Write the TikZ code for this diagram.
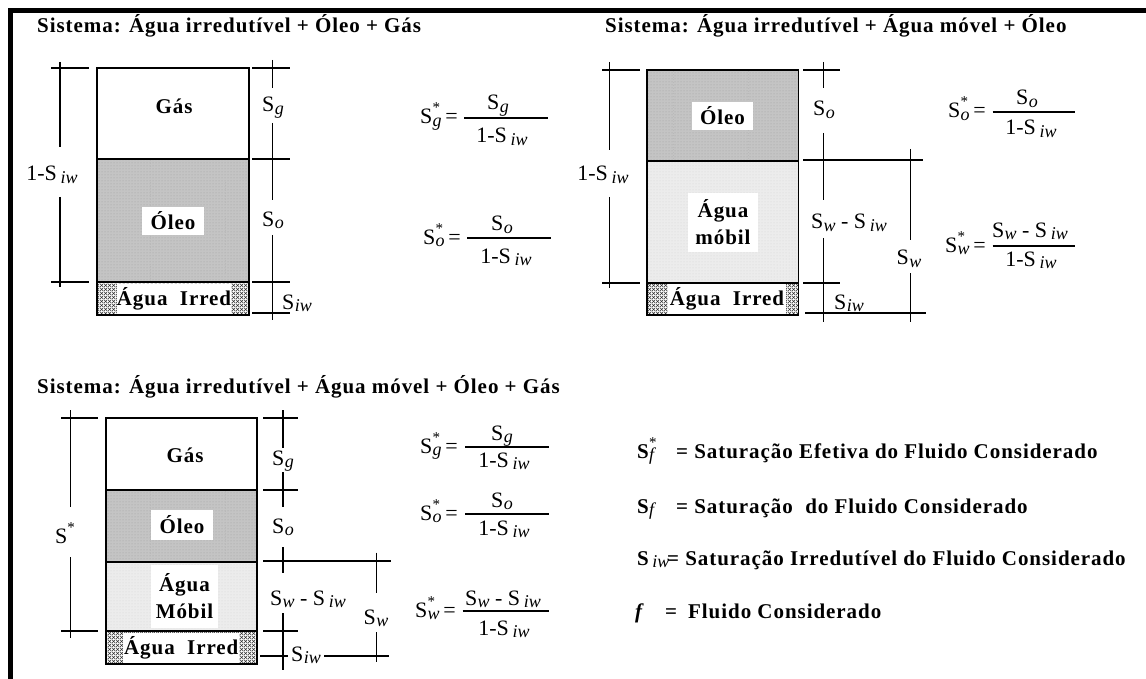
\documentclass[tikz,border=0pt]{standalone}
\usepackage{fontspec}
\setmainfont{Liberation Serif}
\newfontfamily\bfam{Liberation Serif}[LetterSpace=4.5]
\usetikzlibrary{patterns}
\definecolor{oleo}{RGB}{196,196,196}
\definecolor{oleodot}{RGB}{160,160,160}
\definecolor{agua}{RGB}{236,236,236}
\definecolor{aguadot}{RGB}{212,212,212}
\pgfdeclarepatternformonly{xhatch}{\pgfpointorigin}{\pgfpoint{4pt}{4pt}}{\pgfpoint{4pt}{4pt}}{%
  \pgfsetlinewidth{0.7pt}%
  \pgfpathmoveto{\pgfpoint{-0.1pt}{-0.1pt}}\pgfpathlineto{\pgfpoint{4.1pt}{4.1pt}}%
  \pgfpathmoveto{\pgfpoint{-0.1pt}{4.1pt}}\pgfpathlineto{\pgfpoint{4.1pt}{-0.1pt}}%
  \pgfusepath{stroke}}
\newcommand\lblf{\bfam\bfseries\fontsize{21}{27}\selectfont}
\newcommand\symf{\fontsize{22}{24}\selectfont}
\newcommand\subf{\normalfont\fontsize{18}{18}\selectfont\itshape}
\newcommand\supf{\normalfont\fontsize{15}{15}\selectfont}
\newcommand\Sx[1]{S\kern0.3pt\raisebox{-0.13em}{\subf #1}}
\newcommand\Sxs[1]{S\,\raisebox{-0.13em}{\subf #1}}
\newcommand\Sst[1]{S\kern0.3pt\rlap{\raisebox{0.5em}{\supf *}}\raisebox{-0.13em}{\subf #1}}
\tikzset{
  boxln/.style={line width=1.8pt},
  dimln/.style={line width=1.1pt},
  ttl/.style={font=\lblf, anchor=base west, inner sep=0pt},
  lbl/.style={font=\lblf, inner sep=0pt, align=center},
  wlbl/.style={lbl, fill=white},
  sym/.style={font=\symf, inner sep=0pt, anchor=base},
  lhs/.style={font=\symf, inner sep=0pt, anchor=base east},
  oleocell/.style={fill=oleo, postaction={pattern=dots, pattern color=oleodot}},
  aguacell/.style={fill=agua, postaction={pattern=dots, pattern color=aguadot}},
  irrcell/.style={fill=white, postaction={pattern=xhatch, pattern color=black!80}},
  ghost/.style={gray!55, dotted, line width=0.8pt},
  leg/.style={font=\lblf, inner sep=0pt, anchor=base west},
}
\begin{document}
\begin{tikzpicture}[x=1pt,y=-1pt]
\useasboundingbox (0,0) rectangle (1146,679);
% frame bars
\fill[black] (8,8.5) rectangle (1146,13);
\fill[black] (8,8.5) rectangle (13,679);

% ---------------- Panel 1 ----------------
\node[ttl] (t1) at (37,33) {Sistema: Água irredutível + Óleo + Gás};
\path[oleocell] (97,159) rectangle (249,282);
\path[irrcell] (97,282) rectangle (249,315);
\draw[ghost] (150,160) -- (150,281) (225,182) -- (225,273);
\node[lbl] (g1) at (174,106) {Gás};
\node[wlbl, minimum width=62pt, minimum height=28pt] (o1) at (173,221) {Óleo};
\node[wlbl, minimum width=114pt, minimum height=30pt] (i1) at (174,298.5) {Água~~Irred};
\draw[boxln] (97,68) rectangle (249,315) (97,159) -- (249,159) (97,282) -- (249,282);
% dims
\draw[dimln] (60,62) -- (60,147) (60,197) -- (60,287) (51,68) -- (89,68) (51,282) -- (89,282);
\node[sym] (l1) at (52,181) {1-\Sxs{iw}};
\draw[dimln] (272.7,60) -- (272.7,88) (272.7,123) -- (272.7,200) (272.7,235) -- (272.7,320);
\draw[dimln] (252,68) -- (290,68) (252,159) -- (290,159) (252,282) -- (290,282) (252,313) -- (290,313);
\node[sym] (sg1) at (273,112) {\Sx{g}};
\node[sym] (so1) at (273,226) {\Sx{o}};
\node[sym] (si1) at (297,309) {\Sx{iw}};
% formulas
\node[lhs] (e1) at (458,124) {\Sst{g}\,=};
\node[sym] (n1) at (498,110) {\Sx{g}};
\node[sym] (d1) at (502,143) {1-\Sxs{iw}};
\draw[dimln] (464,118) -- (547.5,118);
\node[lhs] (e2) at (461,244) {\Sst{o}\,=};
\node[sym] (n2) at (502,231) {\Sx{o}};
\node[sym] (d2) at (506,263) {1-\Sxs{iw}};
\draw[dimln] (467,238) -- (551,238);

% ---------------- Panel 2 ----------------
\node[ttl] (t2) at (605,33) {Sistema: Água irredutível + Água móvel + Óleo};
\path[oleocell] (647,70) rectangle (798.5,161);
\path[aguacell] (647,161) rectangle (798.5,283);
\path[irrcell] (647,283) rectangle (798.5,315);
\draw[ghost] (673,71) -- (673,160) (748,71) -- (748,160);
\node[wlbl, minimum width=61pt, minimum height=28pt] (o2) at (722.5,116) {Óleo};
\node[wlbl, minimum width=70pt, minimum height=59pt] (a2) at (723,222.5) {Água\\móbil};
\node[wlbl, minimum width=118pt, minimum height=30pt] (i2) at (727,299) {Água~~Irred};
\draw[boxln] (647,70) rectangle (798.5,315) (647,161) -- (798.5,161) (647,283) -- (798.5,283);
% dims
\draw[dimln] (609.7,62) -- (609.7,150) (609.7,197) -- (609.7,288) (602,70) -- (640,70) (602,283) -- (640,283);
\node[sym] (l2) at (603,181) {1-\Sxs{iw}};
\draw[dimln] (823.5,62) -- (823.5,88) (823.5,133) -- (823.5,200) (823.5,238) -- (823.5,322);
\draw[dimln] (803,70) -- (840,70) (803,160) -- (923,160) (803,283) -- (840,283) (805,313) -- (926,313);
\draw[dimln] (910.6,149) -- (910.6,240) (910.6,273) -- (910.6,322);
\node[sym] (so2) at (824,116) {\Sx{o}};
\node[sym] (sw2) at (849,229) {\Sx{w} - \Sxs{iw}};
\node[sym] (si2) at (849,309) {\Sx{iw}};
\node[sym] (swt2) at (909,265) {\Sx{w}};
% formulas
\node[lhs] (e3) at (986,118) {\Sst{o}\,=};
\node[sym] (n3) at (1027,105) {\Sx{o}};
\node[sym] (d3) at (1031,135) {1-\Sxs{iw}};
\draw[dimln] (992.5,112) -- (1075,112);
\node[lhs] (e4) at (986,252) {\Sst{w}\,=};
\node[sym] (n4) at (1030,237) {\Sx{w} - \Sxs{iw}};
\node[sym] (d4) at (1031,266) {1-\Sxs{iw}};
\draw[dimln] (992.5,246) -- (1075,246);

% ---------------- Panel 3 ----------------
\node[ttl] (t3) at (37,393) {Sistema: Água irredutível + Água móvel + Óleo + Gás};
\path[oleocell] (106,490) rectangle (257,562);
\path[aguacell] (106,562) rectangle (257,631);
\path[irrcell] (106,631) rectangle (257,664);
\draw[ghost] (150,491) -- (150,561) (225,491) -- (225,561);
\node[lbl] (g3) at (185,455) {Gás};
\node[wlbl, minimum width=62pt, minimum height=30pt] (o3) at (182,525) {Óleo};
\node[wlbl, minimum width=67pt, minimum height=63pt] (a3) at (184.5,596.5) {Água\\Móbil};
\node[wlbl, minimum width=116pt, minimum height=30pt] (i3) at (181.3,647.5) {Água~~Irred};
\draw[boxln] (106,418) rectangle (257,664) (106,490) -- (257,490) (106,562) -- (257,562) (106,631) -- (257,631);
% dims
\draw[dimln] (70.3,410) -- (70.3,507) (70.3,557) -- (70.3,638) (61,418) -- (98,418) (61,631) -- (98,631);
\node[sym, anchor=base west] (l3) at (55,543) {S\rlap{\raisebox{0.5em}{\supf *}}};
\draw[dimln] (283,410) -- (283,448) (283,472) -- (283,507) (283,547) -- (283,573) (283,613) -- (283,670);
\draw[dimln] (263,418) -- (298,418) (263,490) -- (298,490) (263,561) -- (391,561) (263,631) -- (298,631)
  (260,656) -- (288,656) (324,656) -- (388.5,656);
\draw[dimln] (376.6,552.7) -- (376.6,593) (376.6,632) -- (376.6,661.7);
\node[sym] (sg3) at (283,465) {\Sx{g}};
\node[sym] (so3) at (283,533) {\Sx{o}};
\node[sym] (sw3) at (308,605) {\Sx{w} - \Sxs{iw}};
\node[sym] (si3) at (306,661) {\Sx{iw}};
\node[sym] (swt3) at (376,624) {\Sx{w}};
% formulas
\node[lhs] (e5) at (458,453) {\Sst{g}\,=};
\node[sym] (n5) at (502,440) {\Sx{g}};
\node[sym] (d5) at (504,467) {1-\Sxs{iw}};
\draw[dimln] (465,447) -- (549,447);
\node[lhs] (e6) at (458,520) {\Sst{o}\,=};
\node[sym] (n6) at (502,507) {\Sx{o}};
\node[sym] (d6) at (504,535) {1-\Sxs{iw}};
\draw[dimln] (465,514) -- (549,514);
\node[lhs] (e7) at (456,617) {\Sst{w}\,=};
\node[sym] (n7) at (503,605) {\Sx{w} - \Sxs{iw}};
\node[sym] (d7) at (504,635) {1-\Sxs{iw}};
\draw[dimln] (462.5,611) -- (549,611);

% ---------------- Legend ----------------
\node[leg] (k1s) at (637,458) {\Sst{f}};
\node[leg] (k1) at (676,458) {= Saturação Efetiva do Fluido Considerado};
\node[leg] (k2s) at (637,513) {\Sx{f}};
\node[leg] (k2) at (676,513) {= Saturação~~do Fluido Considerado};
\node[leg] (k3s) at (637,565) {\Sxs{iw}};
\node[leg] (k3) at (667,565) {= Saturação Irredutível do Fluido Considerado};
\node[leg] (k4s) at (635,618) {\itshape f};
\node[leg] (k4e) at (665,618) {=};
\node[leg] (k4) at (688,618) {Fluido Considerado};
\end{tikzpicture}
\end{document}
